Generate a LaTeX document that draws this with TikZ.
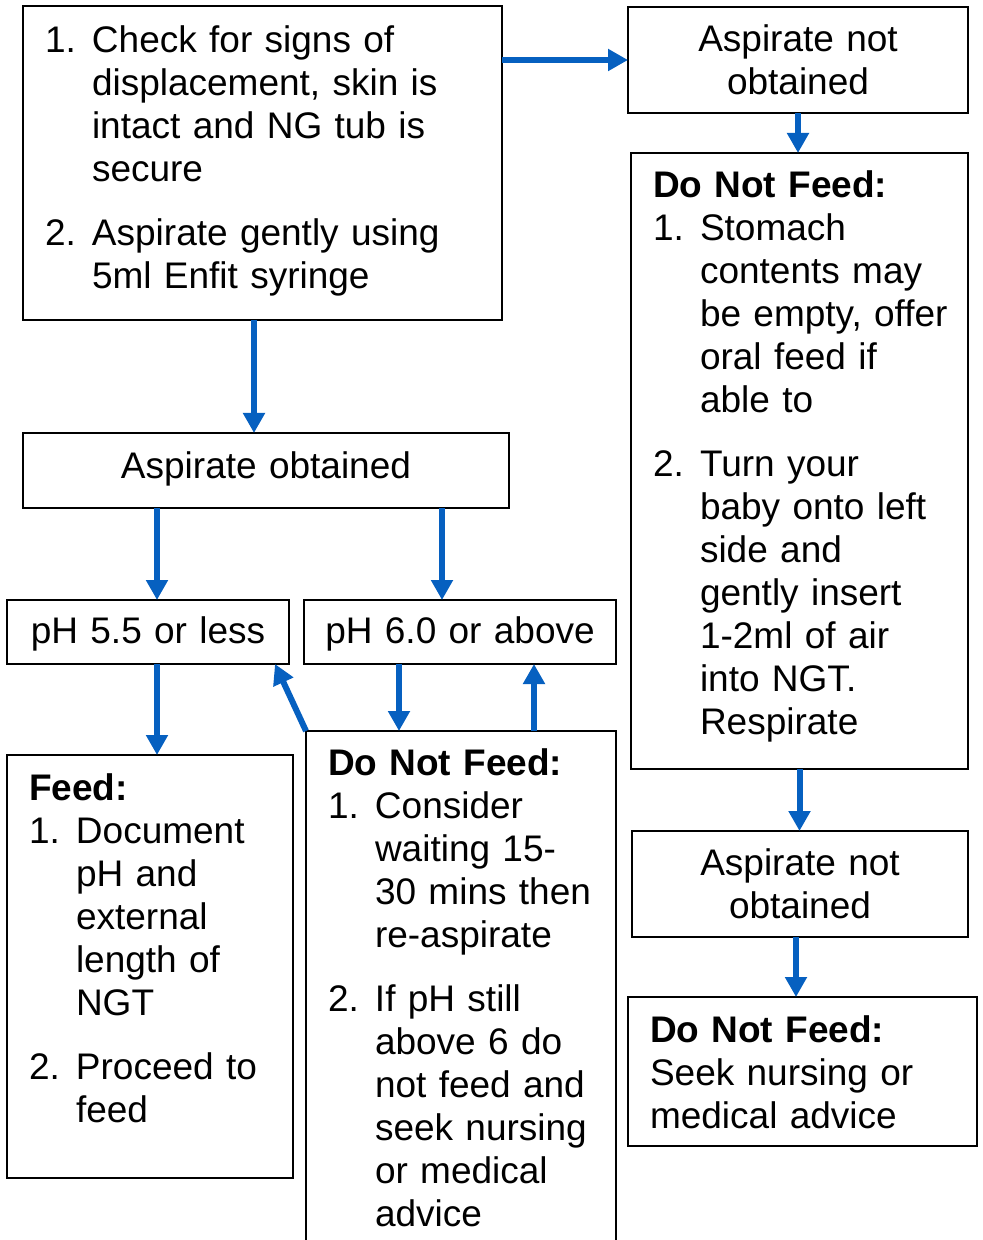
\documentclass[tikz,border=0pt]{standalone}
\usepackage{fontspec}
\setmainfont{Liberation Sans}
\usepackage{xcolor}
\usepackage{tikz}
\usetikzlibrary{arrows.meta}

\definecolor{flowblue}{RGB}{6,96,192}

\begin{document}
\begin{tikzpicture}[x=0.5pt, y=-0.5pt, font=\fontsize{18.5}{21.5}\selectfont]
		\tikzstyle{box} = [draw=black, line width=1pt, rectangle, anchor=north west, inner ysep=0pt, outer sep=0pt]
		\tikzstyle{list} = [box, align=left, inner xsep=11pt]
		\tikzstyle{center} = [box, align=center, inner xsep=4pt]
		\tikzstyle{arrow} = [line width=3pt, draw=flowblue, -{Triangle[length=10pt, width=10.5pt]}]
		
		\useasboundingbox (0, 0) rectangle (982, 1240);
		
		\node[list, text width=217.5pt, text height=23.5pt, text depth=133.5pt] at (23, 6) (q0)
			{\begin{tabular}[t]{@{}p{23.5pt}@{}l@{}}
			1. & Check for signs of\\
			   & displacement, skin is\\
			   & intact and NG tub is\\
			   & secure\\[10.5pt]
			2. & Aspirate gently using\\
			   & 5ml Enfit syringe
			\end{tabular}};
		
		\node[center, text width=162pt, text height=22.5pt, text depth=30.5pt] at (628, 7) (q1)
			{Aspirate not\\obtained};
		\node[list, text width=146.5pt, text height=22.5pt, text depth=285.5pt] at (631, 153) (q2)
			{\begin{tabular}[t]{@{}p{23.5pt}@{}l@{}}
			\multicolumn{2}{@{}l@{}}{\textbf{Do Not Feed:}}\\
			1. & Stomach\\
			   & contents may\\
			   & be empty, offer\\
			   & oral feed if\\
			   & able to\\[10.5pt]
			2. & Turn your\\
			   & baby onto left\\
			   & side and\\
			   & gently insert\\
			   & 1-2ml of air\\
			   & into NGT.\\
			   & Respirate
			\end{tabular}};
		\node[center, text width=160pt, text height=22pt, text depth=31pt] at (632, 831) (q3)
			{Aspirate not\\obtained};
		\node[list, text width=152.5pt, text height=22.5pt, text depth=52pt] at (628, 997) (q4)
			{\textbf{Do Not Feed:}\\Seek nursing or\\medical advice};
		
		\node[center, text width=235pt, text height=22.5pt, text depth=15pt] at (23, 433) (q5)
			{Aspirate obtained};
		\node[center, text width=133pt, text height=21.5pt, text depth=10.5pt] at (7, 600) (q6)
			{pH 5.5 or less};
		\node[center, text width=148pt, text height=21.5pt, text depth=10.5pt] at (304, 600) (q7)
			{pH 6.0 or above};
		
		\node[list, text width=121pt, text height=22.5pt, text depth=189pt] at (7, 755) (q8)
			{\begin{tabular}[t]{@{}p{23.5pt}@{}l@{}}
			\multicolumn{2}{@{}l@{}}{\textbf{Feed:}}\\
			1. & Document\\
			   & pH and\\
			   & external\\
			   & length of\\
			   & NGT\\[10.5pt]
			2. & Proceed to\\
			   & feed
			\end{tabular}};
		\node[list, text width=133pt, text height=22pt, text depth=242.5pt] at (306, 731) (q9)
			{\begin{tabular}[t]{@{}p{23.5pt}@{}l@{}}
			\multicolumn{2}{@{}l@{}}{\textbf{Do Not Feed:}}\\
			1. & Consider\\
			   & waiting 15-\\
			   & 30 mins then\\
			   & re-aspirate\\[10.5pt]
			2. & If pH still\\
			   & above 6 do\\
			   & not feed and\\
			   & seek nursing\\
			   & or medical\\
			   & advice
			\end{tabular}};
		
		\draw [arrow] (q0.east |- q1.west) -- (q1.west);
		\draw [arrow] (q1.south) -- (q1.south |- q2.north);
		\draw [arrow] (q2.south) -- (q2.south |- q3.north);
		\draw [arrow] ([xshift=-2pt]q3.south) -- ([xshift=-2pt]q3.south |- q4.north);
		
		\draw [arrow] ([xshift=-4.25pt]q0.south) -- ([xshift=-4.25pt]q0.south |- q5.north);
		\draw [arrow] ([xshift=4.5pt]q6.north |- q5.south) -- ([xshift=4.5pt]q6.north);
		\draw [arrow] ([xshift=-9pt]q7.north |- q5.south) -- ([xshift=-9pt]q7.north);
		\draw [arrow] ([xshift=4.5pt]q6.south) -- ([xshift=4.5pt]q6.south |- q8.north);
		\draw [arrow] ([xshift=-30.5pt]q7.south) -- ([xshift=-30.5pt]q7.south |- q9.north);
		\draw [arrow] ([xshift=37pt]q7.south |- q9.north) -- ([xshift=37pt]q7.south);
		\draw [arrow] (q9.north west) -- ([xshift=-7pt]q6.south east);
	\end{tikzpicture}
\end{document}
